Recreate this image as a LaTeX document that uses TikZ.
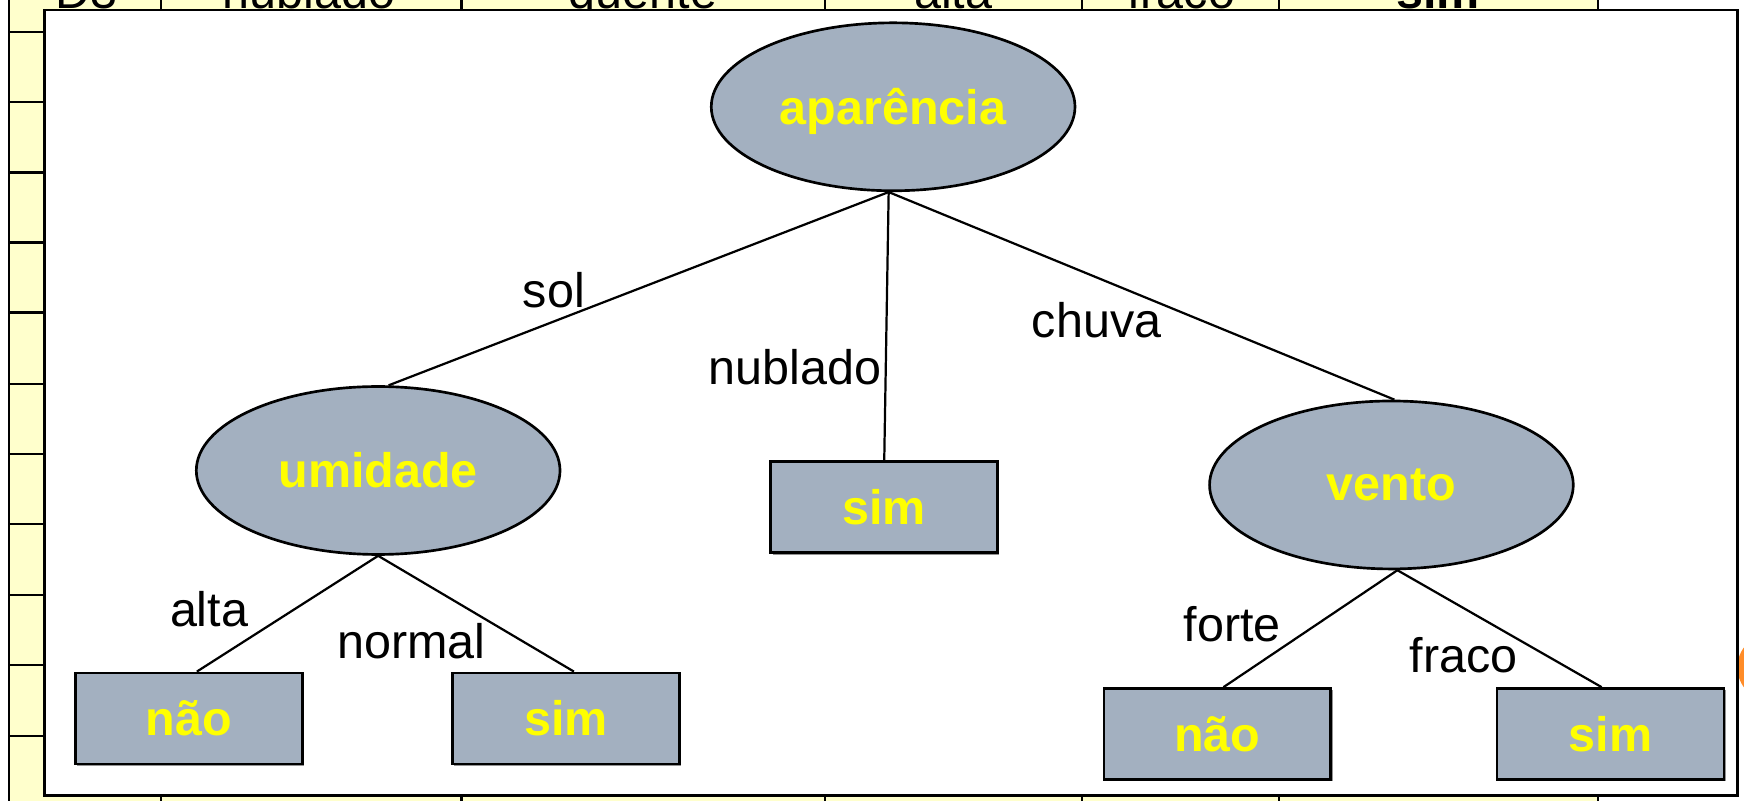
\documentclass[tikz,border=0pt]{standalone}
\usepackage{fontspec}
\setmainfont{Liberation Sans}
\usetikzlibrary{shapes.geometric,shadows}
\definecolor{nodefill}{RGB}{163,176,192}
\definecolor{tblyellow}{RGB}{255,255,204}
\definecolor{txtyellow}{RGB}{255,255,0}
\definecolor{orng}{RGB}{255,140,40}
\begin{document}
\begin{tikzpicture}[x=0.5pt,y=-0.5pt,
  ellnode/.style={ellipse,draw=black,line width=1.2pt,fill=nodefill,inner sep=0pt,
    minimum width=163.5pt,minimum height=75.5pt,
    font=\bfseries\fontsize{21.8}{24}\selectfont,text=txtyellow},
  leaf/.style={rectangle,draw=black,line width=1.2pt,fill=nodefill,inner sep=0pt,
    minimum width=102pt,minimum height=41pt,
    drop shadow={shadow xshift=0.8pt,shadow yshift=-0.8pt,fill=black!60,opacity=0.7},
    font=\bfseries\fontsize{21.8}{24}\selectfont,text=txtyellow},
  lbl/.style={font=\fontsize{21.8}{24}\selectfont,inner sep=0pt},
  tbltxt/.style={font=\fontsize{21.8}{24}\selectfont,inner sep=0pt,anchor=base},
  edge/.style={line width=1pt},
  gridline/.style={line width=1pt,draw=black}]

\useasboundingbox (0,0) rectangle (1568,720);
\clip (0,0) rectangle (1568,720);

% background table
\fill[tblyellow] (8,0) rectangle (1437,720);
\foreach \x in {8,145,415,742,973,1150,1437} \draw[gridline] (\x,0) -- (\x,720);
\foreach \y in {28.5,92,155,218,281,345,408,471,535,598,662} \draw[gridline] (8,\y) -- (1437,\y);
\node[tbltxt] (t1) at (78,8) {D3};
\node[tbltxt] (t2) at (278,8) {nublado};
\node[tbltxt] (t3) at (578,8) {quente};
\node[tbltxt] (t4) at (857,8) {alta};
\node[tbltxt] (t5) at (1062,8) {fraco};
\node[tbltxt,font=\bfseries\fontsize{21.8}{24}\selectfont] (t6) at (1293,8) {sim};

% orange partial shape at right edge
\fill[orng] (1592,600) circle (30);

% white panel
\draw[fill=white,line width=1.2pt] (40,9) rectangle (1562,715);

% tree nodes
\node[ellnode,text depth=0pt] (apar) at (803,96) {aparência};
\node[ellnode] (umid) at (340,423) {umidade};
\node[ellnode] (vento) at (1251,436) {vento};
\node[leaf] (simm) at (795,456) {sim};
\node[leaf] (nao1) at (170,646) {não};
\node[leaf] (sim1) at (509,646) {sim};
\node[leaf] (nao2) at (1094.5,660) {não};
\node[leaf] (sim2) at (1448,660) {sim};

% connectors
\draw[edge] (apar.267) -- (umid.83);
\draw[edge] (apar.267) -- (simm.north);
\draw[edge] (apar.267) -- (vento.88);
\draw[edge] (umid.south) -- ([xshift=3.5pt]nao1.north);
\draw[edge] (umid.south) -- ([xshift=3.5pt]sim1.north);
\draw[edge] (vento.274) -- ([xshift=2.75pt]nao2.north);
\draw[edge] (vento.274) -- ([xshift=-4pt]sim2.north);

% edge labels
\node[lbl] (lsol) at (498,261) {sol};
\node[lbl] (lnub) at (715,330) {nublado};
\node[lbl] (lchu) at (986,288) {chuva};
\node[lbl] (lalta) at (188,548) {alta};
\node[lbl] (lnorm) at (370,576) {normal};
\node[lbl] (lfor) at (1108,561) {forte};
\node[lbl] (lfra) at (1316,589) {fraco};
\end{tikzpicture}
\end{document}
